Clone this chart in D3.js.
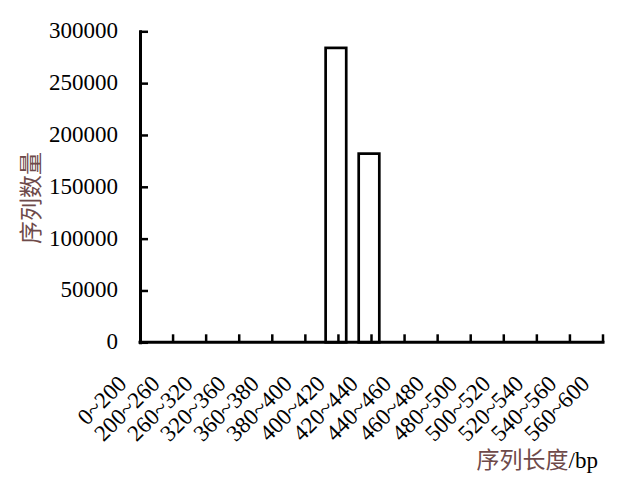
<!DOCTYPE html>
<html><head><meta charset="utf-8">
<script src="https://cdn.jsdelivr.net/npm/d3@7"></script>
<style>
html,body{margin:0;padding:0;background:#fff;}
svg{display:block;}
</style></head>
<body>
<svg id="chart" width="641" height="483"></svg>
<script>
const categories = ["0~200","200~260","260~320","320~360","360~380","380~400","400~420","420~440","440~460","460~480","480~500","500~520","520~540","540~560","560~600"];
const counts = [0,0,0,0,0,0,284000,182000,0,0,0,0,0,0,0];
const yTicks = [0,50000,100000,150000,200000,250000,300000];
const yTitle = "序列数量";
const xTitleCJK = "序列长度";
const xTitleLatin = "/bp";

(function(){
const svg = d3.select("#chart");
const mLeft = 140, mRight = 603, mTop = 31.3, mBottom = 342.3;
const serif = "'Liberation Serif','Times New Roman',serif";
const cjk = "'Liberation Serif','Noto Sans CJK SC',serif";
const cjkColor = "#6e4a4a";

const x = d3.scalePoint().domain(categories).range([mLeft, mRight]);
const y = d3.scaleLinear().domain([0, 300000]).range([mBottom, mTop]);

// bars
const barW = 20.6, barShift = -2.5;
svg.append("g").selectAll("rect").data(categories.map((c,i)=>({c, v: counts[i]})).filter(d=>d.v>0))
  .join("rect")
  .attr("x", d => x(d.c) + barShift - barW/2)
  .attr("y", d => y(d.v))
  .attr("width", barW)
  .attr("height", d => y(0) - y(d.v))
  .attr("fill", "#fff").attr("stroke", "#000").attr("stroke-width", 2.7);

// y axis
const yAxis = d3.axisLeft(y).tickValues(yTicks).tickFormat(d3.format("d"))
  .tickSizeInner(-8).tickSizeOuter(0).tickPadding(22);
const gy = svg.append("g").attr("transform", `translate(${mLeft},0)`).call(yAxis);
gy.select(".domain").attr("stroke-width", 3).attr("stroke", "#000").attr("stroke-linecap","square");
gy.selectAll(".tick line").attr("stroke-width", 2.5).attr("stroke", "#000");
gy.selectAll(".tick text").attr("font-family", serif).attr("font-size", 23).attr("fill", "#000").attr("dy", "0.28em");

// x axis line
svg.append("line").attr("x1", mLeft).attr("x2", mRight).attr("y1", mBottom).attr("y2", mBottom)
  .attr("stroke", "#000").attr("stroke-width", 3).attr("stroke-linecap","square");
// x ticks at category points (except first, which is the y axis)
svg.append("g").selectAll("line").data(categories.slice(1)).join("line")
  .attr("x1", d => x(d)).attr("x2", d => x(d))
  .attr("y1", mBottom).attr("y2", mBottom - 8)
  .attr("stroke", "#000").attr("stroke-width", 2.5);
// x labels
svg.append("g").selectAll("text").data(categories).join("text")
  .attr("transform", d => `translate(${x(d) - 12},${385}) rotate(-45)`)
  .attr("text-anchor", "end")
  .attr("font-family", serif).attr("font-size", 23).attr("fill", "#000")
  .text(d => d);

// y title
svg.append("text").attr("transform", "translate(39,198) rotate(-90)")
  .attr("text-anchor", "middle")
  .attr("font-family", cjk).attr("font-size", 23).attr("fill", cjkColor)
  .text(yTitle);

// x title
const xt = svg.append("text").attr("x", 598).attr("y", 468).attr("text-anchor", "end")
  .attr("font-family", cjk).attr("font-size", 23);
xt.append("tspan").attr("fill", cjkColor).text(xTitleCJK);
xt.append("tspan").attr("fill", "#000").text(xTitleLatin);
})();
</script>
</body></html>
